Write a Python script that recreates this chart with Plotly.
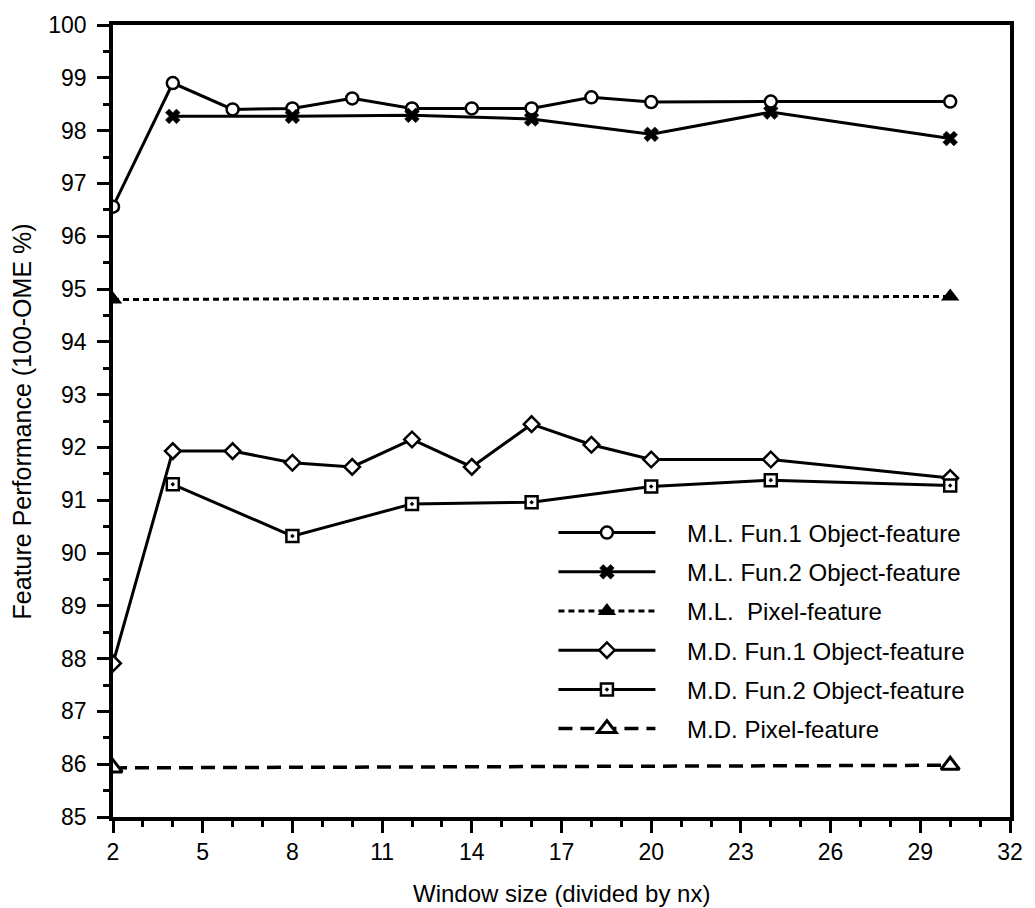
import plotly.graph_objects as go

# ---- data ----
window = [2, 4, 6, 8, 10, 12, 14, 16, 18, 20, 24, 30]
ml_fun1 = [96.56, 98.90, 98.40, 98.42, 98.61, 98.42, 98.42, 98.42, 98.63, 98.54, 98.55, 98.55]
md_fun1 = [87.91, 91.93, 91.93, 91.71, 91.63, 92.15, 91.63, 92.44, 92.05, 91.77, 91.77, 91.42]

window_fun2 = [4, 8, 12, 16, 20, 24, 30]
ml_fun2 = [98.27, 98.27, 98.29, 98.22, 97.93, 98.35, 97.85]
md_fun2 = [91.30, 90.32, 90.93, 90.96, 91.26, 91.38, 91.28]

window_pixel = [2, 30]
ml_pixel = [94.80, 94.86]
md_pixel = [85.93, 85.98]

x_ticks = [2, 5, 8, 11, 14, 17, 20, 23, 26, 29, 32]
y_ticks = list(range(85, 101))

PAD = "\u00a0\u00a0\u00a0\u00a0"
names = [
    "M.L. Fun.1 Object-feature",
    "M.L. Fun.2 Object-feature",
    "M.L.\u00a0 Pixel-feature",
    "M.D. Fun.1 Object-feature",
    "M.D. Fun.2 Object-feature",
    "M.D. Pixel-feature",
]

FONT = "Liberation Sans, Arial, Helvetica, sans-serif"
BLACK = "black"

fig = go.Figure()

fig.add_trace(go.Scatter(
    x=window, y=ml_fun1, name=PAD + names[0], mode="lines+markers", legendgroup="a",
    line=dict(color=BLACK, width=3),
    marker=dict(symbol="circle", size=12, color="white", line=dict(color=BLACK, width=2.5)),
))
fig.add_trace(go.Scatter(
    x=window_fun2, y=ml_fun2, name=PAD + names[1], mode="lines+markers", legendgroup="b",
    line=dict(color=BLACK, width=3),
    marker=dict(symbol="x", size=13, color=BLACK, line=dict(color=BLACK, width=0.5)),
))
fig.add_trace(go.Scatter(
    x=window_pixel, y=ml_pixel, name=PAD + names[2], mode="lines+markers", legendgroup="c",
    line=dict(color=BLACK, width=3, dash="6px,4px"),
    marker=dict(symbol="triangle-up", size=16, color=BLACK),
))
fig.add_trace(go.Scatter(
    x=window, y=md_fun1, name=PAD + names[3], mode="lines+markers", legendgroup="d",
    line=dict(color=BLACK, width=3),
    marker=dict(symbol="diamond", size=12, color="white", line=dict(color=BLACK, width=2.5)),
))
fig.add_trace(go.Scatter(
    x=window_fun2, y=md_fun2, name=PAD + names[4], mode="lines+markers", legendgroup="e",
    line=dict(color=BLACK, width=3),
    marker=dict(symbol="square-dot", size=12, color="white", line=dict(color=BLACK, width=2.5)),
))
fig.add_trace(go.Scatter(
    x=window_pixel, y=md_pixel, name=PAD + names[5], mode="lines+markers", legendgroup="f",
    line=dict(color=BLACK, width=3.5, dash="14px,8px"),
    marker=dict(symbol="triangle-up", size=16, color="white", line=dict(color=BLACK, width=3)),
))

fig.update_layout(
    width=1035, height=908,
    margin=dict(l=113, r=25, t=15, b=91),
    paper_bgcolor="white", plot_bgcolor="white",
    font=dict(family=FONT, size=23, color=BLACK),
    showlegend=True,
    legend=dict(
        x=0.491, y=0.387, xanchor="left", yanchor="top",
        bgcolor="rgba(0,0,0,0)", borderwidth=0,
        font=dict(family=FONT, size=24, color=BLACK),
        itemwidth=97, tracegroupgap=5, traceorder="grouped",
    ),
    xaxis=dict(
        range=[2, 32], tickmode="array", tickvals=x_ticks,
        ticktext=[str(v) for v in x_ticks],
        showgrid=False, zeroline=False,
        showline=True, linewidth=3.5, linecolor=BLACK, mirror=True,
        ticks="outside", ticklen=12, tickwidth=3, tickcolor=BLACK,
        minor=dict(dtick=1, tick0=2, ticks="outside", ticklen=6, tickwidth=2.5,
                   tickcolor=BLACK, showgrid=False),
        tickfont=dict(family=FONT, size=23, color=BLACK),
    ),
    yaxis=dict(
        range=[85, 100], tickmode="array", tickvals=y_ticks,
        ticktext=[str(v) for v in y_ticks],
        showgrid=False, zeroline=False,
        showline=True, linewidth=3.5, linecolor=BLACK, mirror=True,
        ticks="outside", ticklen=12, tickwidth=3, tickcolor=BLACK,
        minor=dict(dtick=0.5, tick0=85, ticks="outside", ticklen=6, tickwidth=2.5,
                   tickcolor=BLACK, showgrid=False),
        tickfont=dict(family=FONT, size=23, color=BLACK),
        ticklabelstandoff=6,
    ),
    annotations=[
        dict(text="Window size (divided by nx)", xref="paper", yref="paper",
             x=0.5, y=-0.077, xanchor="center", yanchor="top", showarrow=False,
             font=dict(family=FONT, size=24, color=BLACK)),
        dict(text="Feature Performance (100-OME %)", xref="paper", yref="paper",
             x=-0.101, y=0.5, xanchor="center", yanchor="middle", showarrow=False,
             textangle=-90, font=dict(family=FONT, size=25, color=BLACK)),
    ],
)

post = ("document.documentElement.style.margin='0';"
        "document.body.style.margin='0';document.body.style.padding='0';"
        "var d=document.getElementById('{plot_id}');"
        "d.style.position='absolute';d.style.left='0px';d.style.top='0px';")

fig.write_html("out.html", post_script=post, config={"displayModeBar": False})
